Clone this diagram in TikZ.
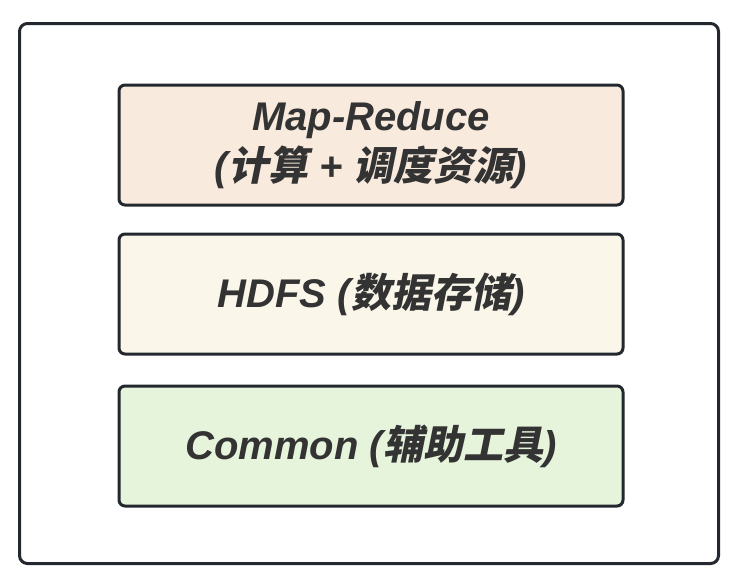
\documentclass[tikz,border=0pt]{standalone}
\usepackage{fontspec}
\setmainfont{Liberation Sans}
\newfontfamily\cjk[UprightFont={* Bold},FakeSlant=0.2]{Noto Sans CJK SC}
\definecolor{edge}{HTML}{23272E}
\definecolor{ink}{HTML}{333333}
\definecolor{mrfill}{HTML}{F8EADD}
\definecolor{hdfsfill}{HTML}{FAF7EA}
\definecolor{comfill}{HTML}{E6F4DC}
\begin{document}
\begin{tikzpicture}
[x=0.5pt,y=-0.5pt,
 layer/.style={draw=edge,line width=1.5pt,rounded corners=3pt,minimum width=252pt,minimum height=60pt,
   text=ink,align=center,font=\fontsize{20}{25}\selectfont\bfseries\itshape}]
\useasboundingbox (0,0) rectangle (742,586);
\draw [edge,line width=1.5pt,rounded corners=4pt] (19.5,23.5) rectangle (718.5,563.5);
\node [layer,fill=mrfill] (mapreduce) at (371,145) {Map-Reduce\\({\cjk 计算} + {\cjk 调度资源})};
\node [layer,fill=hdfsfill] (hdfs) at (371,294) {HDFS ({\cjk 数据存储})};
\node [layer,fill=comfill] (common) at (371,446) {Common ({\cjk 辅助工具})};
\end{tikzpicture}
\end{document}
